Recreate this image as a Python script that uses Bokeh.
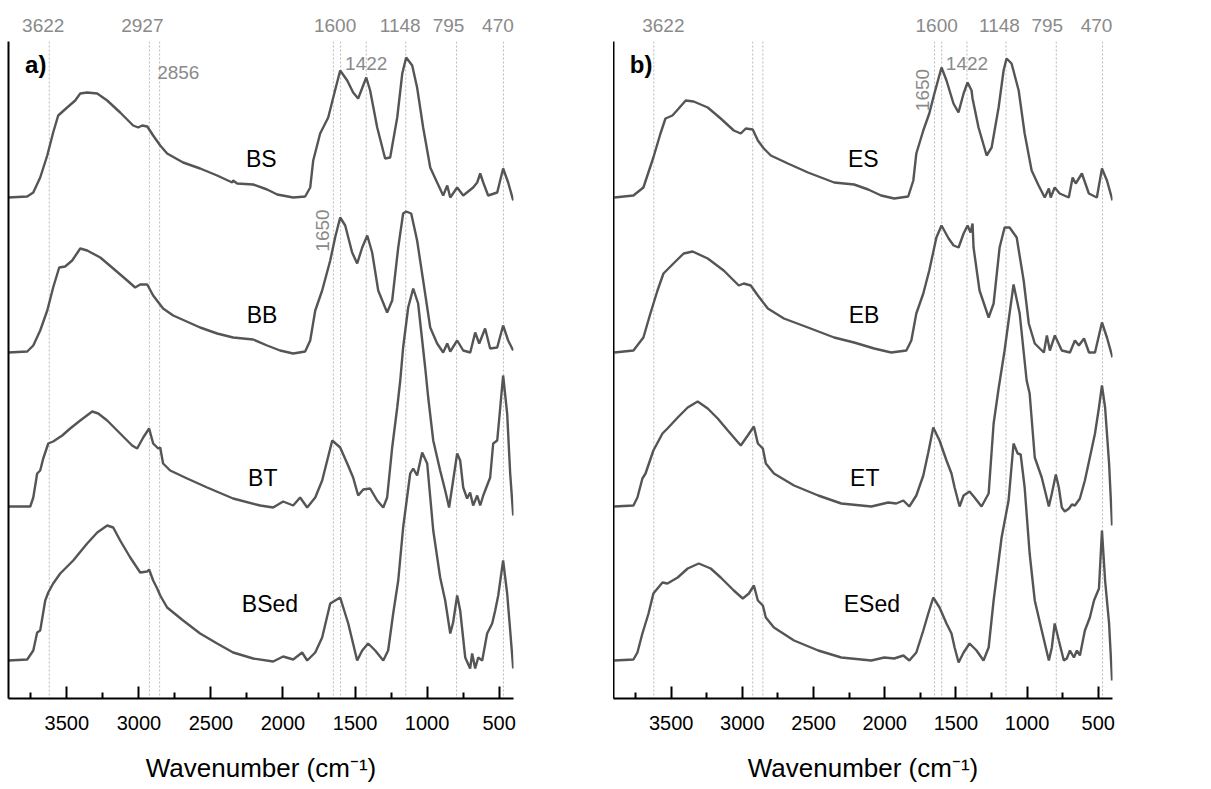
from bokeh.plotting import figure
from bokeh.models import Range1d, FixedTicker, Span, Label, LinearAxis
from bokeh.layouts import row
from bokeh.embed import file_html
from bokeh.resources import INLINE

FONT = "Liberation Sans"

# ---------------- data (wavenumber, relative absorbance) ----------------
names_a = ["BS", "BB", "BT", "BSed"]
names_b = ["ES", "EB", "ET", "ESed"]

BS_wn = [3907,3775,3733,3685,3636,3595,3560,3498,3442,3407,3359,3289,3220,3130,3040,3005,2977,2942,2901,2852,
         2804,2693,2575,2457,2352,2346,2318,2207,2110,2040,1929,1846,1811,1790,1742,1686,1651,1603,1554,1513,
         1478,1422,1395,1346,1291,1256,1207,1172,1145,1103,1069,1027,978,930,888,860,839,791,749,680,
         652,631,610,576,513,472,437,402]
BS_ab = [0,0.01,0.05,0.20,0.42,0.65,0.82,0.90,0.97,1.04,1.05,1.04,0.97,0.85,0.72,0.70,0.72,0.71,0.62,0.52,
         0.44,0.35,0.29,0.22,0.15,0.17,0.14,0.13,0.08,0.03,0.00,0.01,0.10,0.37,0.64,0.80,1.00,1.27,1.17,1.05,
         0.99,1.20,1.07,0.70,0.39,0.40,0.80,1.24,1.40,1.32,1.10,0.70,0.30,0.15,0.02,0.12,0.00,0.10,0.02,0.10,
         0.15,0.24,0.15,0.02,0.05,0.29,0.15,-0.03]

BB_wn = [3907,3775,3733,3685,3636,3595,3553,3512,3463,3407,3359,3268,3178,3081,3026,2991,2942,2901,2832,2762,
         2575,2457,2346,2207,2110,2020,1929,1846,1811,1776,1728,1672,1638,1603,1568,1520,1485,1450,1415,1381,
         1339,1277,1242,1200,1166,1145,1110,1069,1027,978,930,888,860,839,791,749,700,666,638,597,
         562,513,472,437,402]
BB_ab = [0,0.01,0.07,0.22,0.42,0.65,0.85,0.86,0.92,1.04,1.02,0.95,0.84,0.72,0.65,0.68,0.68,0.57,0.44,0.37,
         0.25,0.19,0.15,0.13,0.07,0.02,-0.01,0.01,0.12,0.42,0.62,0.92,1.15,1.35,1.27,1.00,0.89,1.05,1.17,1.00,
         0.62,0.40,0.52,1.05,1.39,1.41,1.39,1.12,0.72,0.25,0.09,0.00,0.09,0.01,0.12,0.02,0.00,0.20,0.09,0.24,
         0.04,0.05,0.27,0.12,0.02]

BT_wn = [3907,3754,3733,3706,3685,3664,3629,3595,3532,3477,3407,3324,3282,3220,3130,3047,3012,2970,2929,2901,
         2866,2852,2832,2783,2665,2526,2346,2158,2068,1999,1929,1881,1832,1776,1728,1693,1658,1603,1554,1513,
         1478,1443,1395,1346,1304,1277,1242,1207,1186,1166,1131,1096,1062,1013,992,957,909,874,847,819,
         791,770,749,722,701,680,652,631,610,562,541,513,492,472,444,423,402]
BT_ab = [0,0,0.09,0.33,0.36,0.48,0.63,0.65,0.71,0.78,0.86,0.95,0.93,0.86,0.73,0.61,0.58,0.69,0.78,0.63,
         0.58,0.59,0.43,0.36,0.28,0.19,0.08,0.01,-0.01,0.05,0.01,0.09,-0.01,0.09,0.26,0.46,0.66,0.59,0.43,0.29,
         0.11,0.17,0.18,0.06,-0.01,0.09,0.59,0.99,1.26,1.59,1.99,2.18,2.03,1.39,1.09,0.66,0.36,0.16,-0.01,0.26,
         0.53,0.46,0.19,0.08,0.14,0.01,0.11,0.01,0.11,0.29,0.63,0.66,0.99,1.31,0.93,0.33,-0.09]

BSed_wn = [3907,3775,3733,3706,3685,3650,3629,3595,3546,3456,3359,3289,3220,3178,3130,3060,2991,2942,2929,2901,
           2873,2852,2804,2693,2575,2457,2346,2207,2068,1999,1929,1867,1832,1776,1728,1672,1603,1547,1485,1450,
           1409,1360,1304,1270,1235,1200,1166,1117,1096,1069,1034,999,957,909,874,839,819,791,770,735,
           701,687,666,645,617,583,548,527,506,472,444,423,402]
BSed_ab = [0,0.01,0.10,0.28,0.30,0.60,0.68,0.77,0.87,1.00,1.17,1.28,1.35,1.33,1.20,1.03,0.88,0.89,0.91,0.80,
           0.72,0.65,0.53,0.40,0.27,0.17,0.08,0.02,-0.01,0.04,0.01,0.08,0.00,0.08,0.23,0.57,0.63,0.37,0.00,0.10,
           0.17,0.10,0.00,0.10,0.47,0.80,1.33,1.87,1.92,1.85,2.08,1.97,1.30,0.83,0.60,0.27,0.38,0.65,0.50,0.03,
           -0.08,0.07,-0.08,0.03,0.00,0.27,0.37,0.50,0.65,1.00,0.67,0.30,-0.08]

ES_wn = [3899,3765,3695,3625,3575,3540,3491,3447,3398,3342,3243,3152,3060,3011,2976,2927,2891,2849,2800,2680,
         2539,2355,2215,2116,2025,1933,1835,1799,1778,1729,1687,1651,1601,1566,1517,1482,1446,1418,1390,1383,
         1341,1284,1249,1200,1165,1144,1109,1059,1017,968,919,876,847,834,806,771,707,680,658,615,
         566,510,474,439,400]
ES_ab = [0,0.02,0.10,0.40,0.64,0.79,0.82,0.89,0.97,0.96,0.90,0.79,0.67,0.64,0.69,0.68,0.57,0.49,0.42,0.34,
         0.25,0.15,0.13,0.08,0.02,-0.01,0.01,0.17,0.44,0.67,0.84,1.04,1.30,1.17,0.94,0.85,1.04,1.15,1.07,0.99,
         0.70,0.42,0.50,0.90,1.27,1.39,1.34,1.07,0.64,0.27,0.12,0.00,0.09,0.00,0.10,0.04,0.00,0.20,0.14,0.24,
         0.04,0.00,0.29,0.17,-0.03]

EB_wn = [3899,3765,3695,3646,3596,3554,3484,3412,3349,3243,3131,3025,2990,2941,2891,2821,2708,2539,2355,2215,
         2074,1954,1848,1813,1778,1729,1687,1637,1601,1551,1516,1481,1446,1418,1397,1383,1376,1334,1270,1235,
         1193,1158,1123,1073,1024,988,946,882,861,840,805,756,699,664,636,600,565,523,474,439,400]
EB_ab = [0,0.02,0.15,0.39,0.62,0.79,0.89,0.99,1.01,0.94,0.82,0.67,0.69,0.67,0.57,0.44,0.34,0.25,0.15,0.10,
         0.04,0.00,0.02,0.12,0.39,0.59,0.82,1.15,1.27,1.14,1.07,1.05,1.19,1.27,1.20,1.29,1.05,0.62,0.35,0.49,
         1.05,1.25,1.25,1.15,0.72,0.29,0.09,0.00,0.17,0.02,0.17,0.02,0.00,0.12,0.07,0.14,0.00,0.00,0.30,0.15,-0.05]

ET_wn = [3899,3765,3737,3702,3680,3625,3561,3526,3454,3384,3314,3243,3173,3102,3011,2962,2919,2891,2856,2835,
         2778,2637,2467,2305,2094,1975,1919,1869,1827,1778,1729,1694,1659,1615,1566,1531,1509,1474,1446,1404,
         1369,1320,1270,1235,1200,1158,1123,1095,1052,1003,982,946,897,847,826,798,777,756,735,706,
         685,664,629,594,544,523,495,474,452,424,403]
ET_ab = [0,0.01,0.09,0.28,0.33,0.56,0.73,0.78,0.89,0.99,1.05,0.98,0.88,0.76,0.61,0.71,0.80,0.63,0.58,0.43,
         0.33,0.21,0.11,0.03,0.00,0.04,0.03,0.06,0.00,0.11,0.31,0.54,0.79,0.66,0.46,0.33,0.19,0.00,0.11,0.15,
         0.09,0.00,0.13,0.83,1.18,1.56,1.93,2.22,1.93,1.26,1.13,0.49,0.29,0.00,0.13,0.32,0.19,-0.01,-0.05,-0.02,
         0.02,0.01,0.08,0.26,0.59,0.73,0.99,1.21,0.99,0.43,-0.19]

ESed_wn = [3899,3765,3737,3702,3659,3625,3561,3526,3454,3384,3306,3222,3152,3060,2997,2954,2919,2891,2856,2835,
           2778,2637,2467,2305,2094,2003,1933,1869,1827,1778,1729,1694,1659,1615,1566,1531,1509,1481,1446,1404,
           1355,1306,1270,1235,1179,1130,1095,1066,1045,1017,982,946,897,847,826,806,777,742,721,699,
           671,650,629,594,559,530,495,474,452,424,403]
ESed_ab = [0,0.01,0.08,0.27,0.47,0.67,0.78,0.77,0.83,0.92,0.97,0.92,0.83,0.70,0.62,0.67,0.75,0.60,0.55,0.43,
           0.33,0.20,0.10,0.03,0.00,0.03,0.02,0.05,0.00,0.08,0.30,0.47,0.63,0.53,0.37,0.27,0.13,-0.02,0.08,0.17,
           0.10,0.00,0.13,0.60,1.23,1.60,2.17,2.07,2.06,1.73,1.07,0.60,0.30,0.00,0.13,0.37,0.20,0.00,0.02,0.10,
           0.03,0.10,0.05,0.30,0.43,0.60,0.72,1.30,0.80,0.37,-0.20]

stack_offsets = [5.01, 3.46, 1.92, 0.38]
peak_lines = [3622, 2927, 2856, 1650, 1600, 1422, 1148, 795, 470]
top_peaks_a = [3622, 2927, 1600, 1148, 795, 470]
top_peaks_b = [3622, 1600, 1148, 795, 470]
x_major = [3500, 3000, 2500, 2000, 1500, 1000, 500]
x_minor = [3750, 3250, 2750, 2250, 1750, 1250, 750]

# ---------------- styling ----------------
CURVE = "#555555"
GREY_TXT = "#8a8a8a"
X0, X1 = 3905, 400
Y_TOP = 6.57


def make_panel(series, names, tag, frame_w, top_peaks, top_offs, rot_y, rot_off,
               show_2856, border_left, border_right):
    p = figure(frame_width=frame_w, frame_height=657,
               x_range=Range1d(X0, X1), y_range=Range1d(0, Y_TOP),
               output_backend="svg", toolbar_location=None,
               min_border_left=border_left, min_border_right=border_right,
               min_border_top=41, min_border_bottom=10)
    p.outline_line_color = None
    p.xgrid.visible = False
    p.ygrid.visible = False
    p.background_fill_color = "white"
    p.border_fill_color = "white"

    # bottom axis (the default one created by figure)
    ax = p.below[0]
    ax.ticker = FixedTicker(ticks=x_major, minor_ticks=x_minor)
    ax.axis_line_width = 2
    ax.axis_line_color = "black"
    ax.major_tick_in = 12
    ax.major_tick_out = 0
    ax.minor_tick_in = 6
    ax.minor_tick_out = 0
    ax.major_tick_line_width = 2
    ax.minor_tick_line_width = 2
    ax.major_tick_line_color = "black"
    ax.minor_tick_line_color = "black"
    ax.major_label_text_font = FONT
    ax.major_label_text_font_size = "20px"
    ax.major_label_text_color = "black"
    ax.major_label_standoff = 17
    ax.axis_label = "Wavenumber (cm\u207b\u00b9)"
    ax.axis_label_text_font = FONT
    ax.axis_label_text_font_size = "26px"
    ax.axis_label_text_font_style = "normal"
    ax.axis_label_text_color = "black"
    ax.axis_label_standoff = 20

    ay = p.left[0]
    ay.ticker = FixedTicker(ticks=[])
    ay.axis_line_width = 2
    ay.axis_line_color = "black"
    ay.major_tick_in = 0
    ay.major_tick_out = 0
    ay.minor_tick_in = 0
    ay.minor_tick_out = 0
    ay.major_label_text_font_size = "0px"
    ay.major_label_standoff = 0

    for v in peak_lines:
        p.add_layout(Span(location=v, dimension="height", line_color="#b8b8b8",
                          line_dash="2 2", line_width=1, level="underlay"))

    for (wn, ab), off in zip(series, stack_offsets):
        p.line(wn, [a + off for a in ab], line_color=CURVE, line_width=2.4)

    lab_dx = [2150, 2145, 2140, 2090]
    lab_dy = [0.39, 0.38, 0.285, 0.57]
    for nm, off, lx, dy in zip(names, stack_offsets, lab_dx, lab_dy):
        p.add_layout(Label(x=lx, y=off + dy, text=nm, text_align="center",
                           text_baseline="middle", text_font=FONT,
                           text_font_size="23px", text_color="black"))

    # peak positions printed above the frame (labels nudged by a few pixels)
    scale = frame_w / (X0 - X1)
    ticks, overrides = [], {}
    for v, dx in zip(top_peaks, top_offs):
        t = int(round(v - dx / scale))
        ticks.append(t)
        overrides[t] = str(v)
    top = LinearAxis(ticker=FixedTicker(ticks=ticks, minor_ticks=[]),
                     major_label_overrides=overrides,
                     axis_line_color=None, major_tick_line_color=None,
                     minor_tick_line_color=None, major_tick_in=0, major_tick_out=0,
                     minor_tick_in=0, minor_tick_out=0,
                     major_label_standoff=10, major_label_text_font=FONT,
                     major_label_text_font_size="19px", major_label_text_color=GREY_TXT)
    p.add_layout(top, "above")

    p.add_layout(Label(x=1422, y=6.35, text="1422", text_align="center",
                       text_baseline="middle", text_font=FONT,
                       text_font_size="19px", text_color=GREY_TXT))
    if show_2856:
        p.add_layout(Label(x=2856, y=6.26, text="2856", x_offset=-2.5,
                           text_align="left", text_baseline="middle",
                           text_font=FONT, text_font_size="19px",
                           text_color=GREY_TXT))
    p.add_layout(Label(x=1650, y=rot_y, text="1650", x_offset=rot_off,
                       angle=1.5708, text_align="center", text_baseline="middle",
                       text_font=FONT, text_font_size="19px", text_color=GREY_TXT))
    p.add_layout(Label(x=3790, y=6.34, text=tag, text_align="left",
                       text_baseline="middle", text_font=FONT,
                       text_font_size="24px", text_font_style="bold",
                       text_color="black"))
    return p


series_a = [(BS_wn, BS_ab), (BB_wn, BB_ab), (BT_wn, BT_ab), (BSed_wn, BSed_ab)]
series_b = [(ES_wn, ES_ab), (EB_wn, EB_ab), (ET_wn, ET_ab), (ESed_wn, ESed_ab)]

pa = make_panel(series_a, names_a, "a)", 505, top_peaks_a, [-6, -7, -5.5, -5.5, -8, -5.5],
                4.68, -10.5, True, 8, 100)
pb = make_panel(series_b, names_b, "b)", 499, top_peaks_b, [9.5, -5, -6.5, -9, -6],
                6.085, -12.5, False, 0, 10)

layout = row(pa, pb)
open("out.html", "w").write(file_html(layout, INLINE))
